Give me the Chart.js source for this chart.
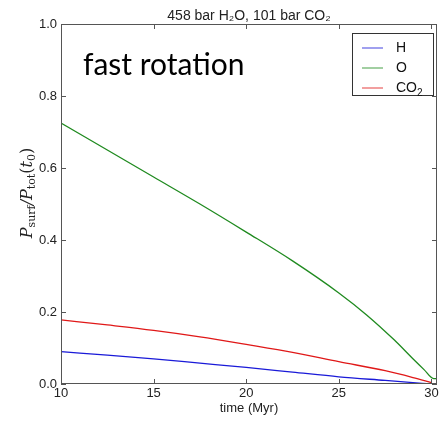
<!DOCTYPE html>
<html>
<head>
<meta charset="utf-8">
<script src="https://cdn.jsdelivr.net/npm/chart.js@4.4.1/dist/chart.umd.min.js"></script>
<style>
  html, body { margin: 0; padding: 0; background: #fff; }
  #wrap { width: 439px; height: 422px; position: relative; }
</style>
</head>
<body>
<div id="wrap"><canvas id="chart"></canvas></div>
<script>
// time axis (Myr) and the surface pressure fractions for each species
const timeH   = [10, 12.5, 15, 17.5, 20, 22.5, 25, 27.5, 29, 30];
const valuesH = [0.090, 0.080, 0.070, 0.058, 0.046, 0.033, 0.020, 0.010, 0.004, 0.000];

const timeO   = [10, 12.5, 15, 17.5, 20, 22.5, 25, 26.5, 28, 29, 29.6, 30.12, 30.3];
const valuesO = [0.725, 0.650, 0.575, 0.500, 0.422, 0.342, 0.253, 0.192, 0.122, 0.070, 0.040, 0.015, 0.015];

const timeCO2   = [10, 12.5, 15, 17.5, 20, 22.5, 25, 27.5, 29, 30];
const valuesCO2 = [0.178, 0.164, 0.149, 0.131, 0.110, 0.088, 0.062, 0.037, 0.018, 0.004];

const xTicks = [10, 15, 20, 25, 30];
const yTicks = [0, 0.2, 0.4, 0.6, 0.8, 1.0];

const seriesNames = ['H', 'O', 'CO\u2082'];
const seriesColors = ['#1a1ad8', '#1f8a1f', '#e01818'];

const plotTitle = '458 bar H\u2082O, 101 bar CO\u2082';
const annotation = 'fast rotation';

function toPoints(xs, ys) {
    return xs.map(function (x, i) { return {x: x, y: ys[i]}; });
}

const sansFont = '"Liberation Sans", Arial, sans-serif';
const spineColor = '#555555';

// matplotlib-like frame: box, inward ticks, title, y label, legend, note
const framePlugin = {
    id: 'frame',
    afterDraw: function (chart) {
        const ctx = chart.ctx;
        const a = chart.chartArea;
        const xs = chart.scales.x;
        const ys = chart.scales.y;
        ctx.save();

        // box
        ctx.strokeStyle = spineColor;
        ctx.lineWidth = 1;
        ctx.strokeRect(a.left + 0.5, a.top + 0.5, a.right - a.left - 1, a.bottom - a.top - 1);

        // inward ticks on all four sides
        ctx.beginPath();
        xTicks.forEach(function (v) {
            const px = Math.round(xs.getPixelForValue(v)) + 0.5;
            ctx.moveTo(px, a.bottom); ctx.lineTo(px, a.bottom - 5);
            ctx.moveTo(px, a.top); ctx.lineTo(px, a.top + 5);
        });
        yTicks.forEach(function (v) {
            const py = Math.round(ys.getPixelForValue(v)) + 0.5;
            ctx.moveTo(a.left, py); ctx.lineTo(a.left + 5, py);
            ctx.moveTo(a.right, py); ctx.lineTo(a.right - 5, py);
        });
        ctx.stroke();

        // title
        ctx.fillStyle = '#222';
        ctx.font = '14px ' + sansFont;
        ctx.textAlign = 'center';
        ctx.textBaseline = 'alphabetic';
        ctx.fillText(plotTitle, 249, 20);

        // y label: P_surf / P_tot(t_0), rotated
        ctx.save();
        ctx.translate(32, 193);
        ctx.rotate(-Math.PI / 2);
        const parts = [
            ['P', 'i16', 0], ['surf', 'n11', 3], ['/', 'i16', 0],
            ['P', 'i16', 0], ['tot', 'n11', 3], ['(', 'n16', 0],
            ['t', 'i16', 0], ['0', 'n11', 3], [')', 'n16', 0]
        ];
        function fontFor(code) {
            const size = code.slice(1);
            const style = code[0] === 'i' ? 'italic ' : '';
            return style + size + 'px "DejaVu Serif", serif';
        }
        let total = 0;
        parts.forEach(function (p) { ctx.font = fontFor(p[1]); total += ctx.measureText(p[0]).width; });
        let cx = -total / 2;
        ctx.textAlign = 'left';
        ctx.fillStyle = '#222';
        parts.forEach(function (p) {
            ctx.font = fontFor(p[1]);
            ctx.fillText(p[0], cx, p[2]);
            cx += ctx.measureText(p[0]).width;
        });
        ctx.restore();

        // legend box in the upper right
        const lx = 352, ly = 33, lw = 81, lh = 62;
        ctx.fillStyle = '#fff';
        ctx.fillRect(lx, ly, lw, lh);
        ctx.strokeStyle = '#333';
        ctx.strokeRect(lx + 0.5, ly + 0.5, lw, lh);
        ctx.font = '14px ' + sansFont;
        ctx.textAlign = 'left';
        ctx.textBaseline = 'middle';
        chart.data.datasets.forEach(function (ds, i) {
            const yy = ly + 15 + i * 20;
            ctx.strokeStyle = ds.borderColor;
            ctx.globalAlpha = 0.55;
            ctx.lineWidth = 1.5;
            ctx.beginPath();
            ctx.moveTo(lx + 10, yy); ctx.lineTo(lx + 31, yy);
            ctx.stroke();
            ctx.globalAlpha = 1;
            ctx.fillStyle = '#111';
            if (ds.label === 'CO\u2082') {
                ctx.fillText('CO', lx + 44, yy);
                const w = ctx.measureText('CO').width;
                ctx.font = '10px ' + sansFont;
                ctx.fillText('2', lx + 44 + w, yy + 5);
                ctx.font = '14px ' + sansFont;
            } else {
                ctx.fillText(ds.label, lx + 44, yy);
            }
        });

        // annotation
        ctx.fillStyle = '#000';
        ctx.font = '30px Lato, "Open Sans", sans-serif';
        ctx.textAlign = 'left';
        ctx.textBaseline = 'alphabetic';
        ctx.fillText(annotation, 83, 75);

        ctx.restore();
    }
};

new Chart(document.getElementById('chart'), {
    type: 'line',
    data: {
        datasets: [
            {label: seriesNames[0], data: toPoints(timeH, valuesH), borderColor: seriesColors[0]},
            {label: seriesNames[1], data: toPoints(timeO, valuesO), borderColor: seriesColors[1]},
            {label: seriesNames[2], data: toPoints(timeCO2, valuesCO2), borderColor: seriesColors[2]}
        ].map(function (ds) {
            ds.borderWidth = 1.3;
            ds.pointRadius = 0;
            ds.cubicInterpolationMode = 'monotone';
            ds.fill = false;
            return ds;
        })
    },
    options: {
        responsive: true,
        maintainAspectRatio: false,
        animation: false,
        layout: {padding: {top: 24, right: 2, left: 0, bottom: 0}},
        plugins: {legend: {display: false}, tooltip: {enabled: false}},
        scales: {
            x: {
                type: 'linear',
                min: 10,
                max: 30.3,
                afterBuildTicks: function (scale) {
                    scale.ticks = xTicks.map(function (v) { return {value: v}; });
                },
                afterFit: function (scale) {
                    scale.height = 38;
                    scale.paddingLeft = 0;
                    scale.paddingRight = 0;
                },
                grid: {display: false, drawTicks: false},
                border: {display: false},
                ticks: {
                    padding: 2,
                    maxRotation: 0,
                    color: '#222',
                    font: {family: sansFont, size: 13}
                },
                title: {
                    display: true,
                    text: 'time (Myr)',
                    color: '#222',
                    padding: {top: 1, bottom: 6},
                    font: {family: sansFont, size: 13}
                }
            },
            y: {
                min: 0,
                max: 1,
                afterBuildTicks: function (scale) {
                    scale.ticks = yTicks.map(function (v) { return {value: v}; });
                },
                afterFit: function (scale) {
                    scale.width = 61;
                    scale.paddingTop = 0;
                    scale.paddingBottom = 0;
                },
                grid: {display: false, drawTicks: false},
                border: {display: false},
                ticks: {
                    padding: 4,
                    color: '#222',
                    font: {family: sansFont, size: 13},
                    callback: function (v) { return Number(v).toFixed(1); }
                }
            }
        }
    },
    plugins: [framePlugin]
});
</script>
</body>
</html>
